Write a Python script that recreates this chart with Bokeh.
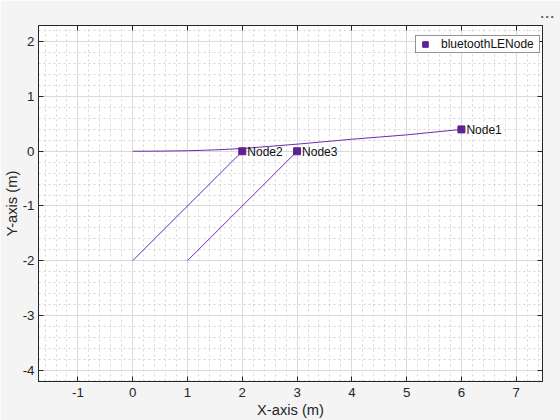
from bokeh.plotting import figure
from bokeh.models import (Range1d, LinearAxis, SingleIntervalTicker, Legend,
                          LegendItem, Title, ColumnDataSource, CustomJSTickFormatter)
from bokeh.embed import file_html
from bokeh.resources import INLINE
from bokeh.core.properties import value

# ---- data ----
node_names = ["Node1", "Node2", "Node3"]
node_x = [6, 2, 3]
node_y = [0.4, 0, 0]

path1_x = [0, 0.5, 1, 1.5, 2, 2.5, 3, 3.5, 4, 4.5, 5, 5.5, 6]
path1_y = [0, 0.003, 0.01, 0.025, 0.05, 0.09, 0.13, 0.175, 0.22, 0.26, 0.30, 0.35, 0.40]
path2_x = [0, 2]
path2_y = [-2, 0]
path3_x = [1, 3]
path3_y = [-2, 0]

x_limits = (-1.72, 7.48)
y_limits = (-4.21, 2.30)
legend_label = "bluetoothLENode"

FONT = "Liberation Sans"
AX = "#262626"
PURPLE = "#5E2193"
LINE = "#6B2DAA"

p = figure(width=560, height=420, output_backend="svg", toolbar_location=None,
           x_range=Range1d(*x_limits), y_range=Range1d(*y_limits),
           min_border_left=38, min_border_right=18, min_border_top=25,
           min_border_bottom=39)
p.background_fill_color = "white"
p.border_fill_color = "#f4f4f4"
p.outline_line_color = AX
p.outline_line_width = 1

p.xaxis.ticker = SingleIntervalTicker(interval=1, num_minor_ticks=5)
p.yaxis.ticker = SingleIntervalTicker(interval=1, num_minor_ticks=5)
p.xaxis.axis_label = "X-axis (m)"
p.yaxis.axis_label = "Y-axis (m)"

num_fmt = "return String(Math.round(tick));"
blank_fmt = "return '';"

def style_axis(ax, labels=True, standoff=5, label_standoff=1):
    ax.axis_line_color = AX
    ax.major_tick_line_color = AX
    ax.major_tick_in = 5
    ax.major_tick_out = 0
    ax.minor_tick_in = 0
    ax.minor_tick_out = 0
    ax.major_label_text_color = AX
    ax.major_label_text_font = FONT
    ax.axis_label_text_font = FONT
    ax.axis_label_text_color = AX
    ax.axis_label_text_font_style = "normal"
    if labels:
        ax.formatter = CustomJSTickFormatter(code=num_fmt)
        ax.major_label_text_font_size = "13.3px"
        ax.axis_label_text_font_size = "14.7px"
        ax.major_label_standoff = standoff
        ax.axis_label_standoff = label_standoff
    else:
        ax.formatter = CustomJSTickFormatter(code=blank_fmt)
        ax.major_label_text_font_size = "1px"
        ax.major_label_standoff = 0

for ax in p.xaxis:
    style_axis(ax, standoff=6, label_standoff=2)
for ax in p.yaxis:
    style_axis(ax, standoff=4, label_standoff=0)

top = LinearAxis(ticker=SingleIntervalTicker(interval=1))
right = LinearAxis(ticker=SingleIntervalTicker(interval=1))
style_axis(top, labels=False)
style_axis(right, labels=False)
p.add_layout(top, "above")
p.add_layout(right, "right")

for g in (p.xgrid, p.ygrid):
    g.grid_line_color = "#dadada"
    g.grid_line_width = 1
    g.minor_grid_line_color = "#d4d4d4"
    g.minor_grid_line_dash = "2 3"
    g.minor_grid_line_width = 1

p.line(path1_x, path1_y, line_color=LINE, line_width=1)
p.line(path2_x, path2_y, line_color=LINE, line_width=1)
p.line(path3_x, path3_y, line_color=LINE, line_width=1)

src = ColumnDataSource(dict(x=node_x, y=node_y, name=node_names))
sq = p.scatter("x", "y", source=src, marker="square", size=7,
               fill_color=PURPLE, line_color=PURPLE)
p.text("x", "y", text="name", source=src, x_offset=5, y_offset=1,
       text_baseline="middle", text_align="left",
       text_font=value(FONT), text_font_size="12px", text_color="#111111")

legend = Legend(items=[LegendItem(label=legend_label, renderers=[sq])],
                location=(377, 328), margin=0, padding=1, spacing=0,
                glyph_width=16, glyph_height=14, label_standoff=8,
                label_width=97, label_height=14,
                label_text_font=FONT, label_text_font_size="12px",
                label_text_color="#111111",
                border_line_color="#262626", border_line_width=1,
                background_fill_color="white", background_fill_alpha=1)
p.add_layout(legend)

dots = Title(text="\u2022 \u2022 \u2022", align="right", offset=-11,
             standoff=9, text_font=FONT, text_font_size="8px",
             text_font_style="normal", text_color="#555555")
p.add_layout(dots, "above")

open("out.html", "w").write(file_html(p, INLINE))
